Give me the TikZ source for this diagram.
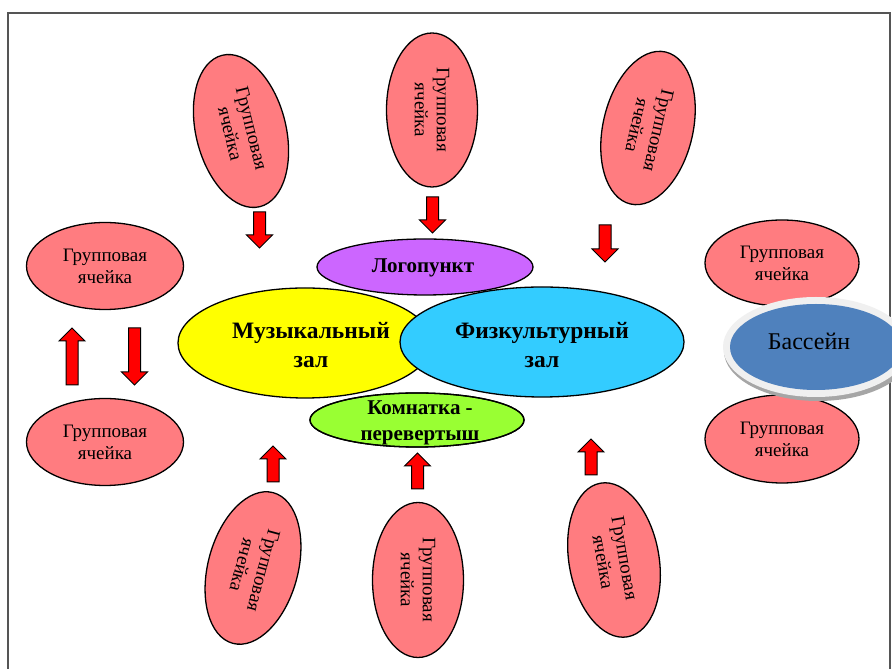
\documentclass[tikz,border=0pt]{standalone}
\usepackage{fontspec}
\setmainfont{Liberation Serif}
\usetikzlibrary{shapes.geometric}
\definecolor{pinkc}{HTML}{FF7C80}
\definecolor{yelc}{HTML}{FFFF00}
\definecolor{cyanc}{HTML}{33CCFF}
\definecolor{purpc}{HTML}{CC66FF}
\definecolor{greenc}{HTML}{99FF33}
\definecolor{bluec}{HTML}{4F81BD}
\definecolor{framec}{HTML}{555555}
\tikzset{
  cell/.style={ellipse, draw=black, line width=1.3pt, fill=pinkc, inner sep=0pt,
    minimum width=156pt, minimum height=90pt, align=center,
    font=\fontsize{19}{22}\selectfont},
  sidecell/.style={cell, minimum width=157pt, minimum height=87pt},
  hall/.style={ellipse, draw=black, line width=1.3pt, inner sep=0pt},
  halltext/.style={align=center, font=\bfseries\fontsize{23.5}{29}\selectfont},
  smalltext/.style={align=center, font=\bfseries\fontsize{21}{26}\selectfont},
  redarrow/.style={fill=red, draw=black, line width=1pt, line join=miter}
}
\newcommand\arrdn[3]{\draw[redarrow] (#1-6,#2)--(#1+6,#2)--(#1+6,#3+13)--(#1+13,#3+13)--(#1,#3)--(#1-13,#3+13)--(#1-6,#3+13)--cycle;}
\newcommand\arrup[3]{\draw[redarrow] (#1-6,#2)--(#1+6,#2)--(#1+6,#3-13)--(#1+13,#3-13)--(#1,#3)--(#1-13,#3-13)--(#1-6,#3-13)--cycle;}
\begin{document}
\begin{tikzpicture}[x=1pt,y=1pt]
\useasboundingbox (0,0) rectangle (892,669);
\fill[white] (0,0) rectangle (892,669);
\draw[framec, line width=1.2pt] (8,-10) -- (8,656) -- (890,656) -- (890,-10);

% top cells
\node[cell, rotate=-76] (t1) at (241,538) {Групповая\\ячейка};
\node[cell, rotate=-90, minimum width=154pt, minimum height=91pt] (t2) at (432,559) {Групповая\\ячейка};
\node[cell, rotate=-103] (t3) at (648,541) {Групповая\\ячейка};
% bottom cells
\node[cell, rotate=-105] (b1) at (253,101) {Групповая\\ячейка};
\node[cell, rotate=-90, minimum width=155pt, minimum height=91pt] (b2) at (418,89) {Групповая\\ячейка};
\node[cell, rotate=-80] (b3) at (614,109) {Групповая\\ячейка};
% side cells
\node[sidecell] (l1) at (105,403) {Групповая\\ячейка};
\node[sidecell] (l2) at (105,227) {Групповая\\ячейка};
\node[sidecell, minimum width=154pt, minimum height=86pt] (r1) at (782,406) {Групповая\\ячейка};
\node[sidecell, minimum width=154pt, minimum height=88pt] (r2) at (782,230) {Групповая\\ячейка};

% arrows
\arrdn{259.5}{457}{421}
\arrdn{432.5}{472}{436}
\arrdn{605}{444}{407}
\arrdn{134.5}{341}{284}
\arrup{72}{284}{341}
\arrup{273}{187}{223}
\arrup{417.5}{180}{216}
\arrup{591}{194}{230}

% central halls
\node[hall, fill=yelc, minimum width=254pt, minimum height=110pt] (mus) at (305,326) {};
\node[halltext] at (311,324) {Музыкальный\\зал};
\node[hall, fill=cyanc, minimum width=284pt, minimum height=110pt] (fiz) at (542,327) {};
\node[halltext] at (542,324) {Физкультурный\\зал};
\node[hall, fill=purpc, minimum width=216pt, minimum height=56pt] (logo) at (425,402) {};
\node[smalltext] at (423,401) {Логопункт};
\node[hall, fill=greenc, minimum width=214pt, minimum height=54pt] (kom) at (417,249) {};
\begin{scope}
\clip (417,249) ellipse [x radius=107pt, y radius=27pt];
\node[smalltext] at (420,246) {Комнатка -\\перевертыш};
\end{scope}
\draw[black, line width=1.3pt] (417,249) ellipse [x radius=107pt, y radius=27pt];

% pool
\fill[gray!70] (818,318) ellipse [x radius=94pt, y radius=50pt];
\fill[gray!12] (816,322) ellipse [x radius=93pt, y radius=50pt];
\node[ellipse, fill=bluec, inner sep=0pt, minimum width=172pt, minimum height=86pt] (pool) at (816,322) {};
\node[font=\fontsize{24}{28}\selectfont] at (809,328) {Бассейн};
\end{tikzpicture}
\end{document}
